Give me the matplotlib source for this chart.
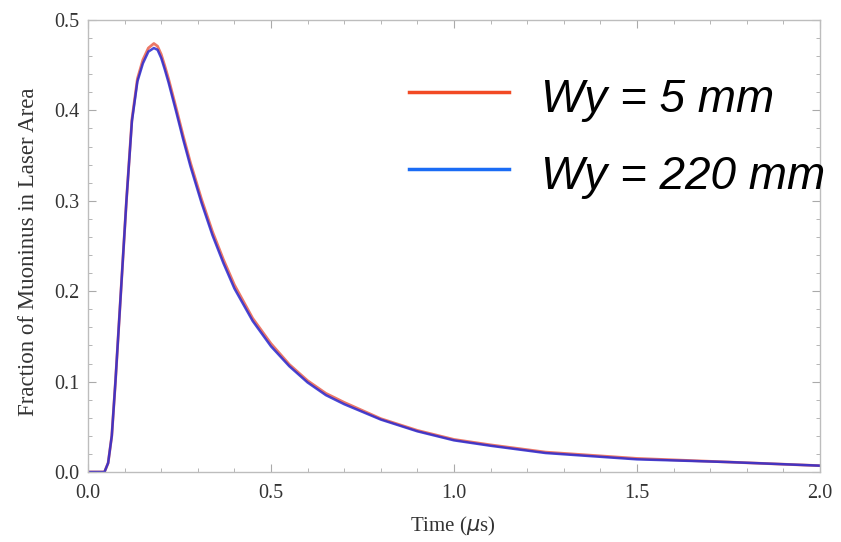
import numpy as np
import matplotlib
matplotlib.use("Agg")
import matplotlib.pyplot as plt
from matplotlib.lines import Line2D
from matplotlib.ticker import MultipleLocator

# time in microseconds, fraction of muoninus in laser area
t = [0, 0.045, 0.055, 0.065, 0.075, 0.09, 0.105, 0.12, 0.135, 0.15, 0.165,
     0.18, 0.19, 0.2, 0.21, 0.22, 0.24, 0.26, 0.28, 0.31, 0.34, 0.37, 0.4,
     0.45, 0.5, 0.55, 0.6, 0.65, 0.7, 0.8, 0.9, 1.0, 1.1, 1.25, 1.5, 1.75,
     2.0]
frac_5mm = [0, 0, 0.01, 0.04, 0.1, 0.2, 0.3, 0.39, 0.435, 0.456, 0.469,
            0.474, 0.471, 0.462, 0.449, 0.435, 0.404, 0.372, 0.342, 0.302,
            0.266, 0.235, 0.207, 0.170, 0.142, 0.119, 0.101, 0.087, 0.077,
            0.059, 0.046, 0.036, 0.030, 0.022, 0.015, 0.011, 0.007]
frac_220mm = [0, 0, 0.01, 0.04, 0.1, 0.2, 0.3, 0.388, 0.432, 0.452, 0.465,
              0.469, 0.467, 0.458, 0.445, 0.431, 0.400, 0.368, 0.338, 0.298,
              0.262, 0.231, 0.203, 0.167, 0.139, 0.117, 0.099, 0.085, 0.075,
              0.058, 0.045, 0.035, 0.029, 0.021, 0.014, 0.011, 0.007]
labels = ["Wy = 5 mm", "Wy = 220 mm"]

fig = plt.figure(figsize=(8.41, 5.42), dpi=100)
ax = fig.add_axes([88/841, 70/542, 732/841, 452/542])

ax.plot(t, frac_5mm, color='#e8604c', lw=2.0, alpha=0.85)
ax.plot(t, frac_220mm, color='#2828d0', lw=1.8, alpha=0.85)

ax.set_xlim(0, 2.0)
ax.set_ylim(0, 0.5)
ax.xaxis.set_major_locator(MultipleLocator(0.5))
ax.xaxis.set_minor_locator(MultipleLocator(0.1))
ax.yaxis.set_major_locator(MultipleLocator(0.1))
ax.yaxis.set_minor_locator(MultipleLocator(0.02))
ax.xaxis.set_major_formatter(plt.FuncFormatter(lambda v, p: f"{v:.1f}"))
ax.yaxis.set_major_formatter(plt.FuncFormatter(lambda v, p: f"{v:.1f}"))

for s in ax.spines.values():
    s.set_color('#bdbdbd')
    s.set_linewidth(1.0)
ax.tick_params(which='both', direction='in', top=True, right=True,
               color='#aaaaaa', labelsize=14.5, labelcolor='#333333')
ax.tick_params(which='major', length=6, width=0.8)
ax.tick_params(which='minor', length=3, width=0.6)
ax.tick_params(axis='x', which='major', pad=9)
ax.tick_params(axis='y', which='major', pad=6)
for lab in ax.get_xticklabels() + ax.get_yticklabels():
    lab.set_fontfamily('Liberation Serif')

ax.set_xlabel(r"Time ($\mu$s)", family='Liberation Serif', fontsize=15,
              color='#333333')
ax.set_ylabel("Fraction of Muoninus in Laser Area", family='Liberation Serif',
              fontsize=16.5, color='#333333')
ax.xaxis.set_label_coords(0.499, -0.094)
ax.yaxis.set_label_coords(-0.067, 0.487)

# legend drawn by hand
for y, c, lab in [(92, '#f24a24', labels[0]), (169, '#1a6cf5', labels[1])]:
    fig.add_artist(Line2D([409/841, 509/841], [1 - y/542, 1 - y/542],
                          color=c, lw=2.5))
    fig.text(541/841, 1 - (y + 20)/542, lab, family='Liberation Sans',
             style='italic', fontsize=33, color='black', va='baseline')

fig.savefig('out.png', dpi=100)
